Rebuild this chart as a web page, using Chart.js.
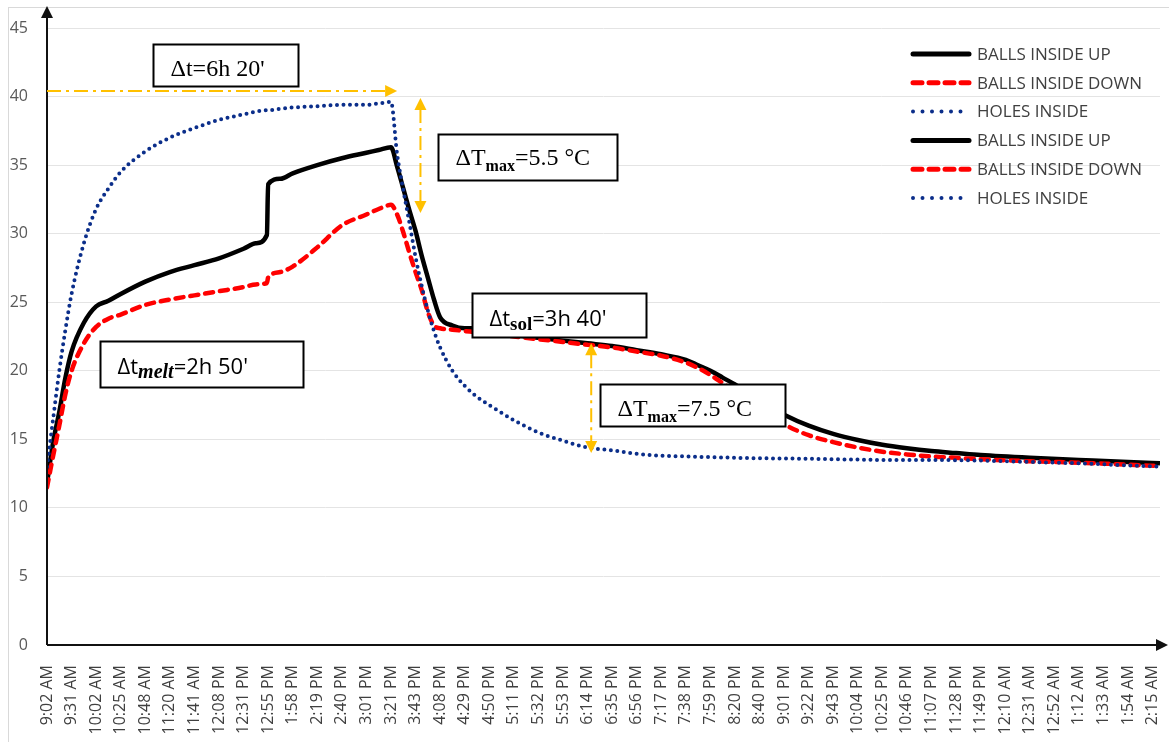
<!DOCTYPE html>
<html>
<head>
<meta charset="utf-8">
<script src="https://cdn.jsdelivr.net/npm/chart.js@4.4.1/dist/chart.umd.min.js"></script>
<style>
  html, body { margin: 0; padding: 0; background: #fff; }
  #wrap { position: relative; width: 1169px; height: 742px; }
</style>
</head>
<body>
<div id="wrap"><canvas id="chart"></canvas></div>
<script>
// tick labels of the time axis (one per slot)
const timeLabels = ['9:02 AM','9:31 AM','10:02 AM','10:25 AM','10:48 AM','11:20 AM','11:41 AM','12:08 PM',
  '12:31 PM','12:55 PM','1:58 PM','2:19 PM','2:40 PM','3:01 PM','3:21 PM','3:43 PM','4:08 PM','4:29 PM',
  '4:50 PM','5:11 PM','5:32 PM','5:53 PM','6:14 PM','6:35 PM','6:56 PM','7:17 PM','7:38 PM','7:59 PM',
  '8:20 PM','8:40 PM','9:01 PM','9:22 PM','9:43 PM','10:04 PM','10:25 PM','10:46 PM','11:07 PM','11:28 PM',
  '11:49 PM','12:10 AM','12:31 AM','12:52 AM','1:12 AM','1:33 AM','1:54 AM','2:15 AM'];

// sample positions on the time axis (in label slots)
const slots = [0,0.25,0.5,0.75,1, 1.5,2,2.5,3, 4,5,6,7,8, 8.5,8.95,9,9.5,10, 11,12,13,13.5,14,
  14.25,14.5,14.75,15, 15.25,15.5,15.75,16, 16.5,17,17.5,18, 19,20,21,22,23, 24,25,26,26.5,27,
  27.5,28,28.5,29,29.5, 30,31,32,33,34, 35,36,37,38,40, 42,44,45.3];

const ballsUp = [11.8,14.8,17.0,19.5,21.4, 23.5,24.7,25.1,25.6, 26.5,27.2,27.7,28.2,28.9,
  29.3,29.9,33.6,34.0,34.4, 35.0,35.5,35.9,36.1,36.3, 34.9,33.3,31.7,30.2, 28.4,26.8,25.2,23.9,
  23.3,23.1,23.1,22.9, 22.6,22.4,22.2,22.0,21.8, 21.5,21.2,20.8,20.4,20.0, 19.5,19.0,18.4,17.8,17.3,
  16.8,16.0,15.4,14.95,14.6, 14.35,14.15,14.0,13.85,13.65, 13.5,13.35,13.25];

const ballsDown = [11.5,13.8,16.0,18.3,20.0, 22.0,23.2,23.8,24.1, 24.8,25.2,25.5,25.8,26.1,
  26.3,26.4,26.8,27.2,27.6, 29.0,30.6,31.4,31.8,32.1, 31.4,30.1,28.6,27.2, 25.9,24.3,23.3,23.1,
  23.0,22.9,22.8,22.7, 22.5,22.3,22.1,21.9,21.7, 21.4,21.1,20.6,20.2,19.7, 19.1,18.5,17.9,17.3,16.7,
  16.1,15.3,14.8,14.4,14.1, 13.9,13.75,13.65,13.55,13.4, 13.3,13.15,13.05];

const holes = [13.0,16.5,20.0,23.0,25.6, 29.3,31.8,33.3,34.5, 36.0,37.0,37.7,38.3,38.7,
  38.9,39.0,39.0,39.1,39.2, 39.3,39.4,39.4,39.5,39.6, 35.8,33.2,30.8,28.3, 26.2,24.4,22.9,21.7,
  20.0,18.9,18.1,17.5, 16.4,15.5,14.9,14.4,14.2, 13.95,13.8,13.75,13.72,13.7, 13.68,13.65,13.63,13.62,13.61,
  13.6,13.58,13.55,13.52,13.5, 13.5,13.5,13.48,13.45,13.35, 13.25,13.1,13.0];

const seriesNames = ['BALLS INSIDE UP', 'BALLS INSIDE DOWN', 'HOLES INSIDE'];

// annotations (data units)
const SERIF = '"Liberation Serif", "Times New Roman", serif';
const SANS = '"Open Sans", sans-serif';
const notes = [
  { x0: 4.3, x1: 10.2, y0: 43.8, y1: 40.8, base: 10,
    parts: [{ t: 'Δt=6h 20\'', f: '24px ' + SERIF }] },
  { x0: 15.9, x1: 23.2, y0: 37.3, y1: 33.9, base: 7,
    parts: [{ t: 'ΔT', f: '24px ' + SERIF }, { t: 'max', f: 'bold 16px ' + SERIF, dy: 6 }, { t: '=5.5 °C', f: '24px ' + SERIF }] },
  { x0: 2.15, x1: 10.4, y0: 22.2, y1: 18.85, base: 9,
    parts: [{ t: 'Δt', f: '22px ' + SANS }, { t: 'melt', f: 'italic bold 20px ' + SERIF, dy: 4 }, { t: '=2h 50\'', f: '22px ' + SANS }] },
  { x0: 17.3, x1: 24.4, y0: 25.7, y1: 22.5, base: 10,
    parts: [{ t: 'Δt', f: '22px ' + SANS }, { t: 'sol', f: 'bold 19px ' + SERIF, dy: 4 }, { t: '=3h 40\'', f: '22px ' + SANS }] },
  { x0: 22.5, x1: 30.05, y0: 19.0, y1: 15.95, base: 10,
    parts: [{ t: 'ΔT', f: '24px ' + SERIF }, { t: 'max', f: 'bold 16px ' + SERIF, dy: 6 }, { t: '=7.5 °C', f: '24px ' + SERIF }] }
];
const arrows = [
  { x0: 0, y0: 40.4, x1: 14.25, y1: 40.4, heads: 'end' },
  { x0: 15.2, y0: 39.9, x1: 15.2, y1: 31.5, heads: 'both' },
  { x0: 22.15, y0: 22.0, x1: 22.15, y1: 14.0, heads: 'both' }
];

function pts(ys) {
  return slots.map((x, i) => ({ x: x, y: ys[i] }));
}

const legendStyles = [
  { color: '#000000', width: 5, dash: [] },
  { color: '#ff0000', width: 5, dash: [9, 7] },
  { color: '#0b2e8a', width: 4, dash: [0, 9.5] }
];

function head(ctx, x, y, dx, dy) {
  // filled triangle pointing in (dx,dy)
  const L = 12, W = 6;
  ctx.beginPath();
  ctx.moveTo(x, y);
  ctx.lineTo(x - dx * L - dy * W, y - dy * L + dx * W);
  ctx.lineTo(x - dx * L + dy * W, y - dy * L - dx * W);
  ctx.closePath();
  ctx.fill();
}

const overlay = {
  id: 'overlay',
  beforeDraw(chart) {
    const ctx = chart.ctx;
    ctx.save();
    ctx.strokeStyle = '#d9d9d9';
    ctx.lineWidth = 1;
    ctx.strokeRect(8.5, 7.5, 1300, 900);
    ctx.restore();
  },
  afterDatasetsDraw(chart) {
    const ctx = chart.ctx;
    const xs = chart.scales.x, ys = chart.scales.y;
    const { left, right, bottom } = chart.chartArea;
    ctx.save();

    // axes with arrows
    ctx.strokeStyle = '#111';
    ctx.fillStyle = '#111';
    ctx.lineWidth = 2;
    ctx.beginPath();
    ctx.moveTo(left, bottom);
    ctx.lineTo(left, 16);
    ctx.moveTo(left, bottom);
    ctx.lineTo(right + 2, bottom);
    ctx.stroke();
    head(ctx, left, 6, 0, -1);
    head(ctx, right + 8, bottom, 1, 0);

    // orange dash-dot arrows
    ctx.strokeStyle = '#ffc000';
    ctx.fillStyle = '#ffc000';
    ctx.lineWidth = 2;
    arrows.forEach(a => {
      const x0 = xs.getPixelForValue(a.x0), y0 = ys.getPixelForValue(a.y0);
      const x1 = xs.getPixelForValue(a.x1), y1 = ys.getPixelForValue(a.y1);
      const len = Math.hypot(x1 - x0, y1 - y0);
      const dx = (x1 - x0) / len, dy = (y1 - y0) / len;
      const s = a.heads === 'both' ? 11 : 0;
      ctx.setLineDash([14, 5, 3, 5]);
      ctx.beginPath();
      ctx.moveTo(x0 + dx * s, y0 + dy * s);
      ctx.lineTo(x1 - dx * 11, y1 - dy * 11);
      ctx.stroke();
      ctx.setLineDash([]);
      head(ctx, x1, y1, dx, dy);
      if (a.heads === 'both') head(ctx, x0, y0, -dx, -dy);
    });

    // text boxes
    notes.forEach(n => {
      const bx = Math.round(xs.getPixelForValue(n.x0)) + 0.5;
      const by = Math.round(ys.getPixelForValue(n.y0)) + 0.5;
      const bw = Math.round(xs.getPixelForValue(n.x1)) - Math.round(xs.getPixelForValue(n.x0));
      const bh = Math.round(ys.getPixelForValue(n.y1)) - Math.round(ys.getPixelForValue(n.y0));
      ctx.fillStyle = '#fff';
      ctx.fillRect(bx, by, bw, bh);
      ctx.strokeStyle = '#000';
      ctx.lineWidth = 2;
      ctx.strokeRect(bx, by, bw, bh);
      let tx = bx + 17;
      const base = by + bh / 2 + n.base;
      ctx.fillStyle = '#000';
      ctx.textBaseline = 'alphabetic';
      ctx.textAlign = 'left';
      n.parts.forEach(p => {
        ctx.font = p.f;
        ctx.fillText(p.t, tx, base + (p.dy || 0));
        tx += ctx.measureText(p.t).width;
      });
    });

    // legend (series list shown twice, as in the original)
    ctx.font = '17px ' + SANS;
    ctx.textBaseline = 'middle';
    ctx.lineCap = 'round';
    for (let r = 0; r < 6; r++) {
      const st = legendStyles[r % 3];
      const y = 54 + r * 28.8;
      ctx.strokeStyle = st.color;
      ctx.lineWidth = st.width;
      ctx.setLineDash(st.dash);
      ctx.beginPath();
      ctx.moveTo(913, y);
      ctx.lineTo(969, y);
      ctx.stroke();
      ctx.setLineDash([]);
      ctx.fillStyle = '#404040';
      ctx.fillText(chart.data.datasets[r % 3].label, 977, y + 1);
    }
    ctx.restore();
  }
};

new Chart(document.getElementById('chart'), {
  type: 'line',
  data: {
    datasets: [
      { label: seriesNames[0], data: pts(ballsUp), borderColor: '#000000', borderWidth: 4.5,
        order: 3, cubicInterpolationMode: 'monotone' },
      { label: seriesNames[1], data: pts(ballsDown), borderColor: '#ff0000', borderWidth: 4.5,
        borderDash: [8, 7], borderCapStyle: 'round', order: 2, cubicInterpolationMode: 'monotone' },
      { label: seriesNames[2], data: pts(holes), borderColor: '#0b2e8a', borderWidth: 4,
        borderDash: [0, 6.5], borderCapStyle: 'round', order: 1, cubicInterpolationMode: 'monotone' }
    ]
  },
  options: {
    responsive: true,
    maintainAspectRatio: false,
    animation: false,
    events: [],
    layout: { padding: { top: 28, right: 9, left: 0, bottom: 0 } },
    elements: { point: { radius: 0 } },
    plugins: { legend: { display: false }, tooltip: { enabled: false } },
    scales: {
      x: {
        type: 'linear',
        min: 0,
        max: 45.3,
        grid: { display: false },
        border: { display: false },
        afterFit: s => { s.height = 97; s.paddingLeft = 0; s.paddingRight = 0; },
        ticks: {
          stepSize: 1,
          autoSkip: false,
          includeBounds: false,
          minRotation: 90,
          maxRotation: 90,
          padding: 12,
          color: '#404040',
          font: { family: 'Open Sans', size: 16 },
          callback: v => timeLabels[v] || ''
        }
      },
      y: {
        min: 0,
        max: 45,
        border: { display: false },
        grid: { color: '#e4e4e4', lineWidth: 1, drawTicks: false },
        afterFit: s => { s.width = 47; s.paddingTop = 0; s.paddingBottom = 0; },
        ticks: {
          stepSize: 5,
          padding: 19,
          color: '#595959',
          font: { family: 'Open Sans', size: 16 }
        }
      }
    }
  },
  plugins: [overlay]
});
</script>
</body>
</html>
